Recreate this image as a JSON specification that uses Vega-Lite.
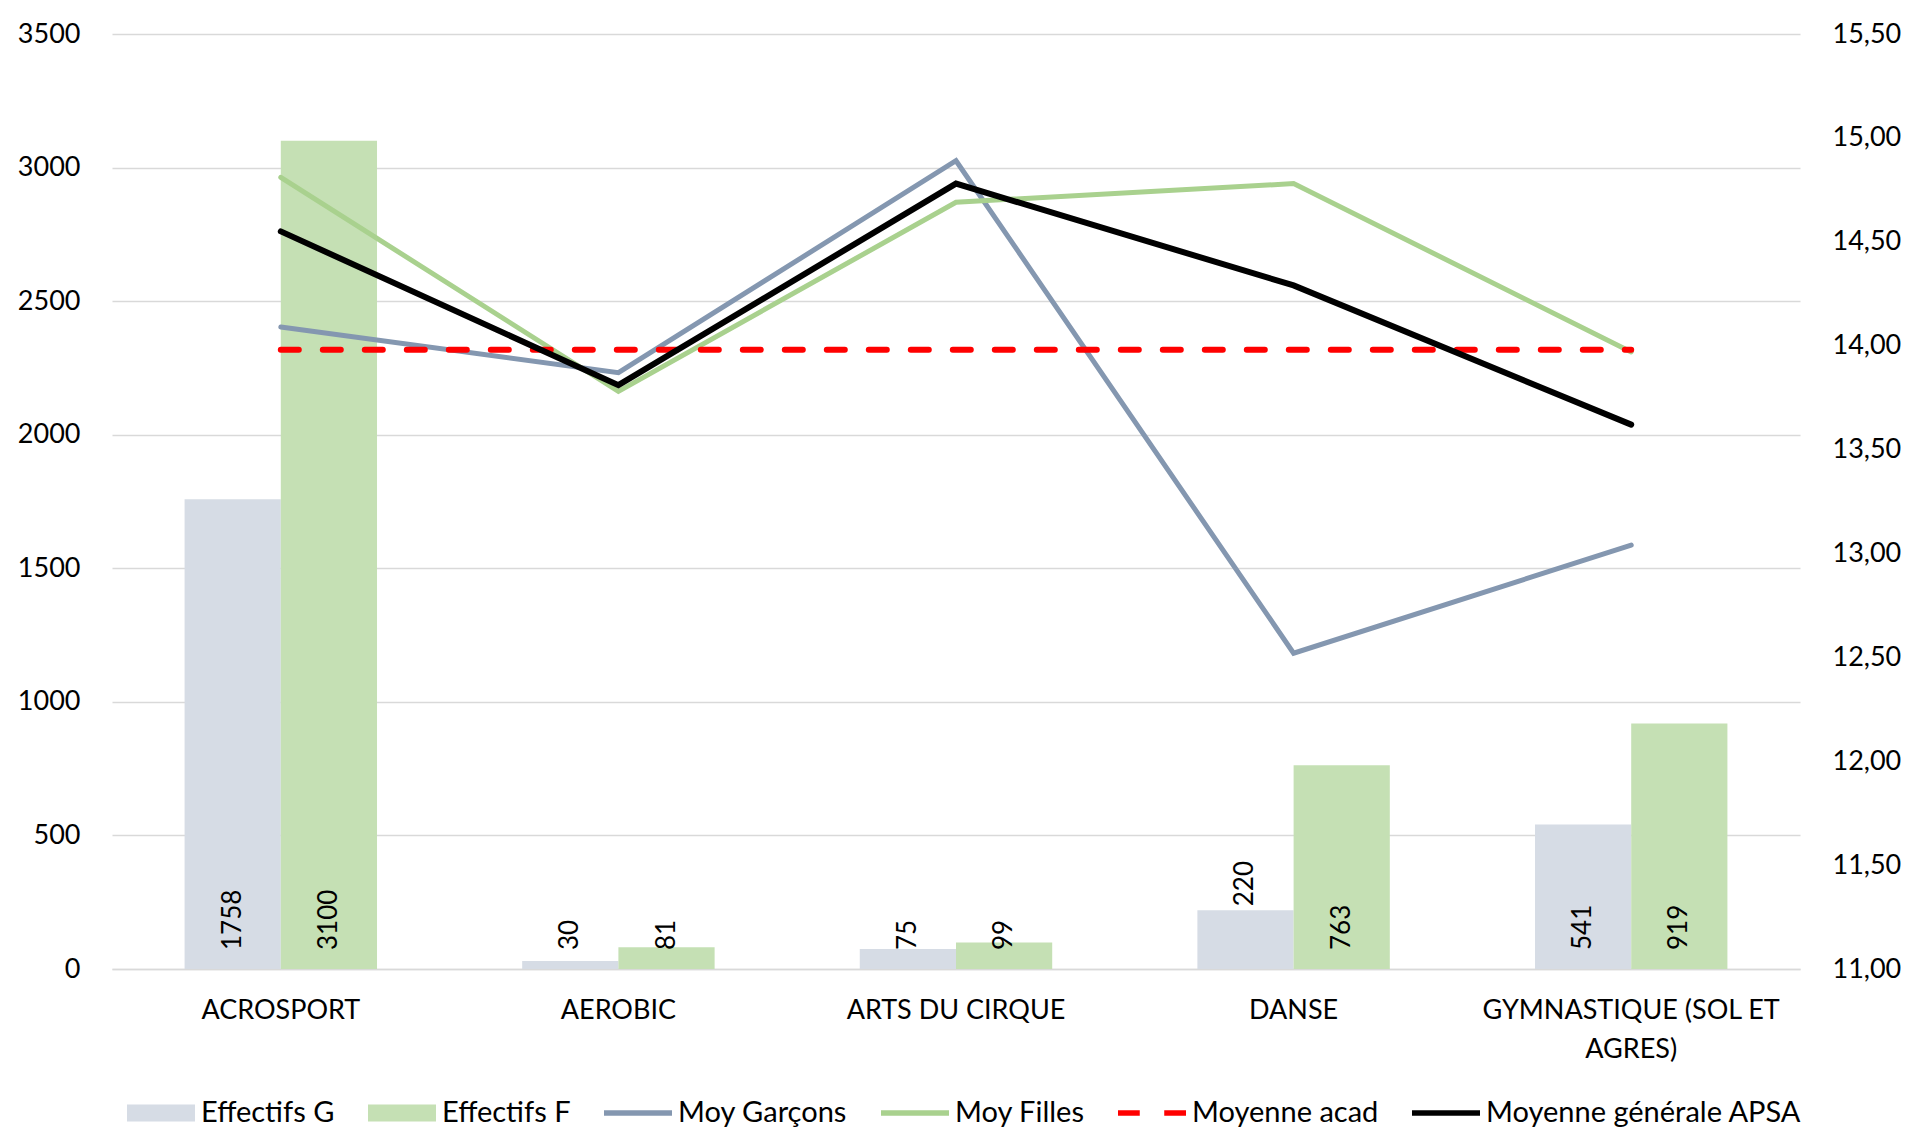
{
  "$schema": "https://vega.github.io/schema/vega-lite/v6.json",
  "width": 1688,
  "height": 935,
  "autosize": {"type": "none"},
  "padding": {"left": 112, "top": 34, "right": 115, "bottom": 158},
  "background": "#ffffff",
  "config": {
    "view": {"stroke": null},
    "font": "Lato",
    "axis": {"labelFont": "Lato", "labelColor": "#000000", "labelFontSize": 27, "ticks": false, "title": null},
    "legend": {"labelFont": "Lato", "labelColor": "#000000", "labelFontSize": 29}
  },
  "data": {
    "values": [
      {"categorie": "ACROSPORT", "serie": "Effectifs G", "valeur": 1758},
      {"categorie": "ACROSPORT", "serie": "Effectifs F", "valeur": 3100},
      {"categorie": "ACROSPORT", "serie": "Moy Garçons", "valeur": 14.09},
      {"categorie": "ACROSPORT", "serie": "Moy Filles", "valeur": 14.81},
      {"categorie": "ACROSPORT", "serie": "Moyenne acad", "valeur": 13.98},
      {"categorie": "ACROSPORT", "serie": "Moyenne générale APSA", "valeur": 14.55},
      {"categorie": "AEROBIC", "serie": "Effectifs G", "valeur": 30},
      {"categorie": "AEROBIC", "serie": "Effectifs F", "valeur": 81},
      {"categorie": "AEROBIC", "serie": "Moy Garçons", "valeur": 13.87},
      {"categorie": "AEROBIC", "serie": "Moy Filles", "valeur": 13.78},
      {"categorie": "AEROBIC", "serie": "Moyenne acad", "valeur": 13.98},
      {"categorie": "AEROBIC", "serie": "Moyenne générale APSA", "valeur": 13.81},
      {"categorie": "ARTS DU CIRQUE", "serie": "Effectifs G", "valeur": 75},
      {"categorie": "ARTS DU CIRQUE", "serie": "Effectifs F", "valeur": 99},
      {"categorie": "ARTS DU CIRQUE", "serie": "Moy Garçons", "valeur": 14.89},
      {"categorie": "ARTS DU CIRQUE", "serie": "Moy Filles", "valeur": 14.69},
      {"categorie": "ARTS DU CIRQUE", "serie": "Moyenne acad", "valeur": 13.98},
      {"categorie": "ARTS DU CIRQUE", "serie": "Moyenne générale APSA", "valeur": 14.78},
      {"categorie": "DANSE", "serie": "Effectifs G", "valeur": 220},
      {"categorie": "DANSE", "serie": "Effectifs F", "valeur": 763},
      {"categorie": "DANSE", "serie": "Moy Garçons", "valeur": 12.52},
      {"categorie": "DANSE", "serie": "Moy Filles", "valeur": 14.78},
      {"categorie": "DANSE", "serie": "Moyenne acad", "valeur": 13.98},
      {"categorie": "DANSE", "serie": "Moyenne générale APSA", "valeur": 14.29},
      {"categorie": "GYMNASTIQUE (SOL ET AGRES)", "serie": "Effectifs G", "valeur": 541},
      {"categorie": "GYMNASTIQUE (SOL ET AGRES)", "serie": "Effectifs F", "valeur": 919},
      {"categorie": "GYMNASTIQUE (SOL ET AGRES)", "serie": "Moy Garçons", "valeur": 13.04},
      {"categorie": "GYMNASTIQUE (SOL ET AGRES)", "serie": "Moy Filles", "valeur": 13.97},
      {"categorie": "GYMNASTIQUE (SOL ET AGRES)", "serie": "Moyenne acad", "valeur": 13.98},
      {"categorie": "GYMNASTIQUE (SOL ET AGRES)", "serie": "Moyenne générale APSA", "valeur": 13.62}
    ]
  },
  "encoding": {
    "x": {
      "field": "categorie",
      "type": "nominal",
      "sort": null,
      "scale": {"paddingInner": 0.43, "paddingOuter": 0.215},
      "axis": {
        "labelAngle": 0,
        "domain": true,
        "domainColor": "#D9D9D9",
        "domainWidth": 1.5,
        "labelPadding": 28,
        "labelLimit": 0,
        "labelLineHeight": 39,
        "labelExpr": "datum.label == 'GYMNASTIQUE (SOL ET AGRES)' ? ['GYMNASTIQUE (SOL ET', 'AGRES)'] : datum.label"
      }
    }
  },
  "layer": [
    {
      "layer": [
        {
          "transform": [{"filter": "datum.serie == 'Effectifs G' || datum.serie == 'Effectifs F'"}],
          "mark": {"type": "bar"},
          "encoding": {
            "xOffset": {"field": "serie", "type": "nominal", "sort": ["Effectifs G", "Effectifs F"], "scale": {"domain": ["Effectifs G", "Effectifs F"], "paddingInner": 0, "paddingOuter": 0}},
            "y": {
              "field": "valeur", "type": "quantitative",
              "scale": {"domain": [0, 3500], "nice": false},
              "axis": {
                "orient": "left",
                "values": [0, 500, 1000, 1500, 2000, 2500, 3000, 3500],
                "format": "d",
                "grid": true,
                "gridColor": "#D9D9D9",
                "gridWidth": 1.3,
                "domain": false,
                "labelPadding": 32
              }
            },
            "color": {
              "field": "serie", "type": "nominal",
              "scale": {
                "domain": ["Effectifs G", "Effectifs F", "Moy Garçons", "Moy Filles", "Moyenne acad", "Moyenne générale APSA"],
                "range": ["#D6DCE5", "#C5E0B4", "#8497B0", "#A9D18E", "#FF0000", "#000000"]
              },
              "legend": {
                "title": null,
                "orient": "none",
                "direction": "horizontal",
                "legendX": 15,
                "legendY": 1045,
                "symbolSize": 4624,
                "labelOffset": 6,
                "labelLimit": 0,
                "columnPadding": 33,
                "labelFontSize": 29,
                "encode": {
                  "symbols": {
                    "update": {
                      "size": {"value": 4624},
                      "shape": {"signal": "(datum.value == 'Effectifs G' || datum.value == 'Effectifs F') ? 'M-1,-0.25H1V0.25H-1Z' : (datum.value == 'Moyenne acad' ? 'M-1,-0.08H-0.36V0.08H-1Z M0.36,-0.08H1V0.08H0.36Z' : 'M-1,-0.08H1V0.08H-1Z')"},
                      "fill": {"signal": "scale('color', datum.value)"},
                      "stroke": {"value": "transparent"},
                      "strokeWidth": {"value": 0},
                      "opacity": {"value": 1}
                    }
                  }
                }
              }
            }
          }
        },
        {
          "transform": [
            {"filter": "datum.serie == 'Effectifs G' || datum.serie == 'Effectifs F'"},
            {"filter": "!(datum.categorie == 'DANSE' && datum.serie == 'Effectifs G')"}
          ],
          "mark": {"type": "text", "angle": 270, "align": "left", "baseline": "middle", "dx": 19, "fontSize": 26, "font": "Lato", "color": "#000000"},
          "encoding": {
            "xOffset": {"field": "serie", "type": "nominal", "sort": ["Effectifs G", "Effectifs F"]},
            "y": {"datum": 0, "type": "quantitative"},
            "text": {"field": "valeur", "type": "quantitative", "format": "d"}
          }
        },
        {
          "transform": [
            {"filter": "datum.categorie == 'DANSE' && datum.serie == 'Effectifs G'"}
          ],
          "mark": {"type": "text", "angle": 270, "align": "left", "baseline": "middle", "dx": 4, "fontSize": 26, "font": "Lato", "color": "#000000"},
          "encoding": {
            "xOffset": {"field": "serie", "type": "nominal", "sort": ["Effectifs G", "Effectifs F"]},
            "y": {"field": "valeur", "type": "quantitative"},
            "text": {"field": "valeur", "type": "quantitative", "format": "d"}
          }
        }
      ]
    },
    {
      "layer": [
        {
          "transform": [{"filter": "datum.serie == 'Moy Garçons'"}],
          "mark": {"type": "line", "strokeWidth": 5, "strokeCap": "round", "strokeJoin": "miter"},
          "encoding": {
            "y": {
              "field": "valeur", "type": "quantitative",
              "scale": {"domain": [11, 15.5], "nice": false, "zero": false},
              "axis": {
                "orient": "right",
                "values": [11, 11.5, 12, 12.5, 13, 13.5, 14, 14.5, 15, 15.5],
                "labelExpr": "replace(format(datum.value, '.2f'), '.', ',')",
                "grid": false,
                "domain": false,
                "labelPadding": 32
              }
            },
            "color": {"field": "serie", "type": "nominal"}
          }
        },
        {
          "transform": [{"filter": "datum.serie == 'Moy Filles'"}],
          "mark": {"type": "line", "strokeWidth": 5, "strokeCap": "round", "strokeJoin": "miter"},
          "encoding": {
            "y": {"field": "valeur", "type": "quantitative"},
            "color": {"field": "serie", "type": "nominal"}
          }
        },
        {
          "transform": [{"filter": "datum.serie == 'Moyenne acad'"}],
          "mark": {"type": "line", "strokeWidth": 6, "strokeCap": "round", "strokeDash": [18, 24]},
          "encoding": {
            "y": {"field": "valeur", "type": "quantitative"},
            "color": {"field": "serie", "type": "nominal"}
          }
        },
        {
          "transform": [{"filter": "datum.serie == 'Moyenne générale APSA'"}],
          "mark": {"type": "line", "strokeWidth": 6, "strokeCap": "round", "strokeJoin": "miter"},
          "encoding": {
            "y": {"field": "valeur", "type": "quantitative"},
            "color": {"field": "serie", "type": "nominal"}
          }
        }
      ]
    }
  ],
  "resolve": {"scale": {"y": "independent"}}
}
